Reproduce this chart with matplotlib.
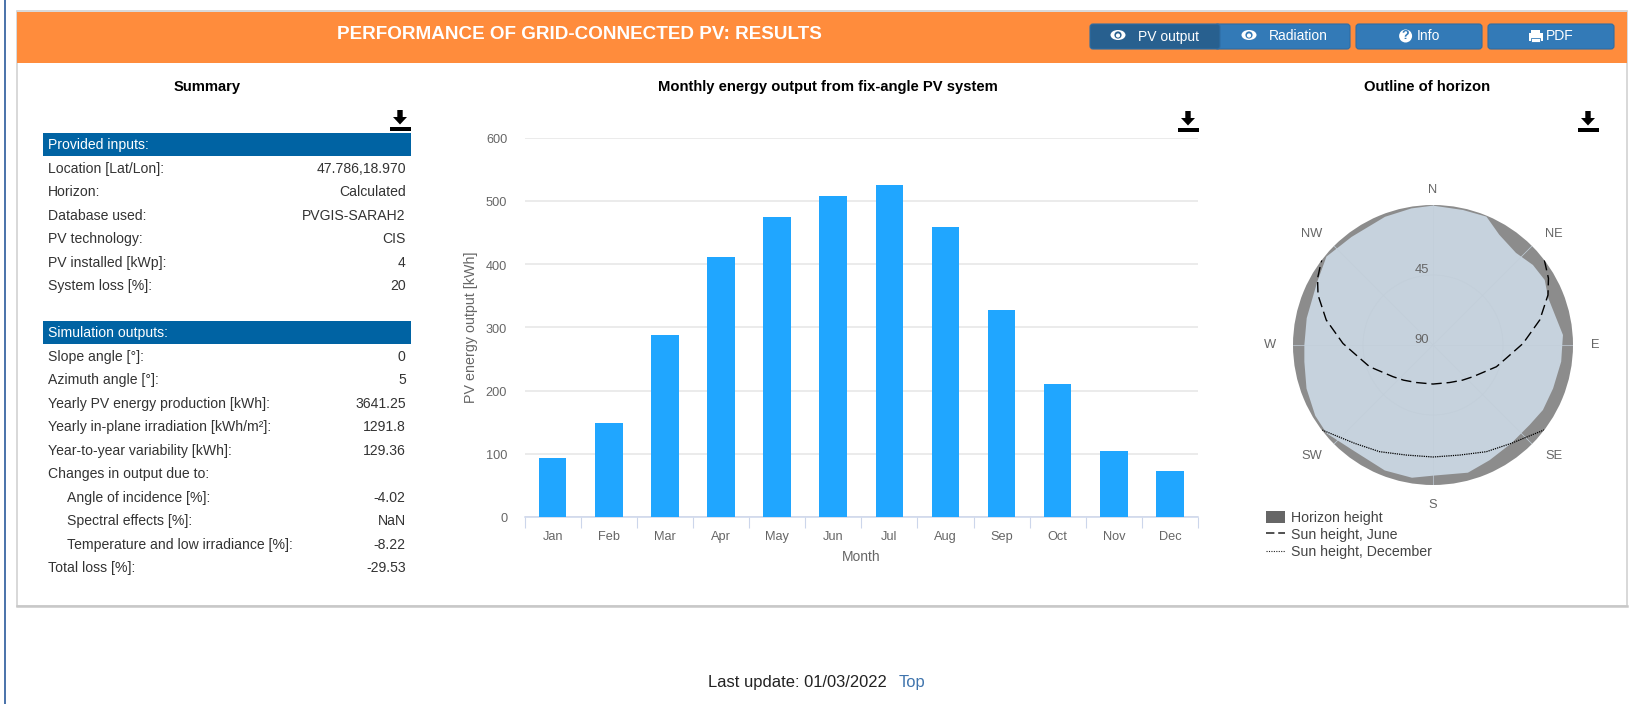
import numpy as np
import matplotlib
matplotlib.use("Agg")
import matplotlib.pyplot as plt
from matplotlib.patches import Rectangle, FancyBboxPatch, Polygon, Ellipse, Circle, Patch
from matplotlib.lines import Line2D
from matplotlib.transforms import ScaledTranslation

plt.rcParams['font.family'] = ['Liberation Sans', 'DejaVu Sans']

W, H = 1638, 704

# ---------- data ----------
months = ['Jan', 'Feb', 'Mar', 'Apr', 'May', 'Jun', 'Jul', 'Aug', 'Sep', 'Oct', 'Nov', 'Dec']
pv_output = [93, 149, 288, 412, 474, 508, 525, 458, 327, 211, 105, 73]
y_ticks = [0, 100, 200, 300, 400, 500, 600]

inputs_rows = [('Location [Lat/Lon]:', '47.786,18.970'), ('Horizon:', 'Calculated'),
               ('Database used:', 'PVGIS-SARAH2'), ('PV technology:', 'CIS'),
               ('PV installed [kWp]:', '4'), ('System loss [%]:', '20')]
output_rows = [('Slope angle [°]:', '0', 0), ('Azimuth angle [°]:', '5', 0),
               ('Yearly PV energy production [kWh]:', '3641.25', 0),
               ('Yearly in-plane irradiation [kWh/m²]:', '1291.8', 0),
               ('Year-to-year variability [kWh]:', '129.36', 0),
               ('Changes in output due to:', '', 0),
               ('Angle of incidence [%]:', '-4.02', 1), ('Spectral effects [%]:', 'NaN', 1),
               ('Temperature and low irradiance [%]:', '-8.22', 1), ('Total loss [%]:', '-29.53', 0)]
inputs_y = [169, 192, 216, 239, 263, 286]
output_y = [357, 380, 404, 427, 451, 474, 498, 521, 545, 568]

horizon_az = [0, 12.5, 22.6, 31, 42, 51.3, 59.8, 67.9, 85.6, 90, 97.4, 109.9, 120.6, 129.6,
              141.5, 153.8, 164.7, 180, 189, 201, 216, 230.3, 239, 251, 262.6, 270, 282,
              298.7, 309.7, 323, 339.5, 351]
horizon_el = [0.4, 1.1, 0.6, 7.3, 10.3, 7.7, 6.9, 10, 6.2, 6.9, 6.9, 7.9, 7.9, 9.4,
              9.2, 7.5, 4.9, 6, 3.6, 3.6, 5.1, 1.1, 1.7, 4, 6.6, 7.3, 7,
              5.2, 1, 3, 2, 1.1]
june_az = [52.7, 60, 66.5, 76.8, 89, 100, 108.9, 128.4, 140, 156, 180, 204, 220, 231.6,
           251.1, 260, 271, 283.2, 293.5, 300, 307.3]
june_el = [0, 4.3, 9.4, 19.5, 32.1, 42, 46.9, 57.2, 60.5, 63.6, 64.9, 63.6, 60.5, 57.2,
           46.9, 42, 32.1, 19.5, 9.4, 4.3, 0]
dec_az = [127.3, 141.5, 153.4, 166.4, 180, 193.6, 206.6, 218.5, 232.7]
dec_el = [0, 9.2, 13.3, 17.2, 18, 17.2, 13.3, 9.2, 0]
compass_deg = [0, 45, 90, 135, 180, 225, 270, 315]
compass = ['N', 'NE', 'E', 'SE', 'S', 'SW', 'W', 'NW']

fig = plt.figure(figsize=(W / 100, H / 100), dpi=100, facecolor='white')


def px_axes(x0, y0, x1, y1, **kw):
    return fig.add_axes([x0 / W, 1 - y1 / H, (x1 - x0) / W, (y1 - y0) / H], **kw)


# ---------- page ----------
pg = fig.add_axes([0, 0, 1, 1])
pg.set_xlim(0, W)
pg.set_ylim(H, 0)
pg.axis('off')

pg.plot([5, 5], [0, H], color='#2a5a9c', lw=1.2)
pg.add_patch(Rectangle((16.5, 10.5), 1610.5, 595, fc='white', ec='#d2d2d2', lw=1.2))
pg.plot([17, 1627], [606, 606], color='#c8c8c8', lw=1.8)
pg.add_patch(Rectangle((17, 12), 1610, 51, fc='#ff8c3c', ec='none'))
pg.text(579, 34.5, 'PERFORMANCE OF GRID-CONNECTED PV: RESULTS', color='white', fontsize=13.55,
        fontweight='bold', ha='center', va='center')


def button(x0, x1, color):
    pg.add_patch(FancyBboxPatch((x0 + 2, 26), x1 - x0 - 4, 21, boxstyle='round,pad=2,rounding_size=3',
                                fc=color, ec='#2e6da4', lw=0.8))


def eye(cx, cy, bg):
    pg.add_patch(Ellipse((cx, cy), 15, 10, fc='white', ec='none'))
    pg.add_patch(Circle((cx, cy), 3.6, fc=bg, ec='none'))
    pg.add_patch(Circle((cx, cy + 0.5), 2.1, fc='white', ec='none'))


button(1215, 1350, '#337ab7')
button(1090, 1220, '#28608f')
button(1356, 1482, '#337ab7')
button(1488, 1614, '#337ab7')
btn_kw = dict(color='white', fontsize=10, ha='center', va='center')
eye(1118, 35, '#28608f')
pg.text(1168, 36.5, 'PV output', **btn_kw)
eye(1249, 35, '#337ab7')
pg.text(1298, 36.5, 'Radiation', **btn_kw)
pg.add_patch(Circle((1405.6, 36), 6.5, fc='white', ec='none'))
pg.text(1405.6, 36.3, '?', color='#337ab7', fontsize=9, fontweight='bold', ha='center', va='center')
pg.text(1428, 36.5, 'Info', **btn_kw)
pg.add_patch(Rectangle((1528.5, 33), 14, 7.5, fc='white', ec='none'))
pg.add_patch(Rectangle((1531, 30), 9, 3, fc='white', ec='none'))
pg.add_patch(Rectangle((1531, 38), 9, 4, fc='white', ec='#337ab7', lw=0.6))
pg.text(1560, 36.5, 'PDF', **btn_kw)

title_kw = dict(color='black', fontsize=10.6, fontweight='bold', ha='center', va='center')
pg.text(207, 87, 'Summary', **title_kw)
pg.text(828, 87, 'Monthly energy output from fix-angle PV system', **title_kw)
pg.text(1427, 87, 'Outline of horizon', **title_kw)


def download(cx, y0):
    pg.add_patch(Polygon([(cx - 2.7, y0), (cx + 2.7, y0), (cx + 2.7, y0 + 7), (cx + 7, y0 + 7),
                          (cx, y0 + 14.5), (cx - 7, y0 + 7), (cx - 2.7, y0 + 7)], fc='black', ec='none'))
    pg.add_patch(Rectangle((cx - 10.5, y0 + 17), 21, 3.5, fc='black', ec='none'))


download(400, 110)
download(1188, 111)
download(1588, 111)

# ---------- summary tables ----------
row_kw = dict(color='#333333', fontsize=10.1, va='center')
for top, bottom, head in [(133, 155.5, 'Provided inputs:'), (321, 344, 'Simulation outputs:')]:
    pg.add_patch(Rectangle((43, top), 368, bottom - top, fc='#0063a3', ec='none'))
    pg.text(48.3, (top + bottom) / 2 + 1, head, color='white', fontsize=10.1, va='center')
for (label, value), y in zip(inputs_rows, inputs_y):
    pg.text(48.3, y, label, **row_kw)
    pg.text(405.7, y, value, ha='right', **row_kw)
for (label, value, indent), y in zip(output_rows, output_y):
    pg.text(67.3 if indent else 48.3, y, label, **row_kw)
    pg.text(405.7, y, value, ha='right', **row_kw)

pg.text(708, 682, 'Last update: 01/03/2022', color='#222222', fontsize=11.85, va='center')
pg.text(899, 682, 'Top', color='#3f74ad', fontsize=11.85, va='center')

# ---------- bar chart ----------
ax = px_axes(524.6, 137.7, 1198, 517)
ax.patch.set_alpha(0)
x = np.arange(len(months))
ax.bar(x, pv_output, width=0.49, color='#20a6ff', zorder=3)
ax.set_xlim(-0.5, 11.5)
ax.set_ylim(0, 600)
ax.set_yticks(y_ticks)
ax.set_xticks(x)
ax.set_xticklabels(months)
ax.set_xticks(np.arange(-0.5, 12), minor=True)
ax.grid(axis='y', color='#e6e6e6', lw=1.1, zorder=0)
ax.set_axisbelow(True)
for s in ['top', 'right', 'left']:
    ax.spines[s].set_visible(False)
ax.spines['bottom'].set_color('#ccd6eb')
ax.spines['bottom'].set_linewidth(1.1)
ax.tick_params(axis='y', length=0, pad=12.5, labelcolor='#666666', labelsize=9.2)
ax.tick_params(axis='x', which='major', length=0, pad=9.9, labelcolor='#666666', labelsize=9.2)
ax.tick_params(axis='x', which='minor', length=8, width=0.8, color='#ccd6eb')
for lab in ax.get_yticklabels():
    lab.set_transform(lab.get_transform() + ScaledTranslation(0, -1 / 100, fig.dpi_scale_trans))
ax.set_xlabel('Month', color='#666666', fontsize=10, labelpad=5.5)
ax.set_ylabel('PV energy output [kWh]', color='#666666', fontsize=10.3, labelpad=6)

# ---------- horizon ----------
pax = px_axes(1293, 205, 1573, 485, projection='polar')
pax.set_theta_zero_location('N')
pax.set_theta_direction(-1)
pax.set_facecolor('#8c8c8c')
pax.fill(np.radians(horizon_az), 90 - np.array(horizon_el), color='#c6d2dd', lw=0, zorder=1)
pax.plot(np.radians(june_az), 90 - np.array(june_el), color='black', lw=1.0, ls=(0, (7.5, 3.5)), zorder=3)
pax.plot(np.radians(dec_az), 90 - np.array(dec_el), color='black', lw=0.9, ls=(0, (1, 0.8)), zorder=3)
pax.set_ylim(0, 90)
pax.set_yticks([45])
pax.set_yticklabels([])
pax.set_thetagrids(compass_deg, [''] * len(compass))
pax.grid(color='#c2ced9', alpha=1, lw=0.5, zorder=0)
pax.set_axisbelow(False)
for gl in pax.get_xgridlines() + pax.get_ygridlines():
    gl.set_zorder(2)
pax.spines['polar'].set_visible(False)
label_dx = {'N': 0, 'S': 0, 'E': 22, 'W': -23, 'NE': 22, 'NW': -22, 'SE': 22, 'SW': -22}
label_dy = {'N': 15, 'S': -20, 'E': 0, 'W': 0, 'NE': 12.5, 'NW': 12.5, 'SE': -12.5, 'SW': -12.5}
for deg, name in zip(compass_deg, compass):
    pax.annotate(name, xy=(np.radians(deg), 90), xytext=(label_dx[name] * 0.72, label_dy[name] * 0.72),
                 textcoords='offset points', color='#666666', fontsize=9.3, ha='center', va='center',
                 annotation_clip=False)
for lab, r in [('45', 45), ('90', 0)]:
    pax.annotate(lab, xy=(0, r), xytext=(-8, 3.4), textcoords='offset points',
                 color='#666666', fontsize=9.4, ha='center', va='center', zorder=5)

leg_handles = [Patch(fc='#666666', ec='none', label='Horizon height'),
               Line2D([], [], color='#222222', lw=1.1, ls=(0, (5.5, 2.5)), label='Sun height, June'),
               Line2D([], [], color='#222222', lw=0.8, ls=(0, (1, 1.2)), label='Sun height, December')]
fig.legend(handles=leg_handles, loc='upper left', bbox_to_anchor=(1266 / W, 1 - 510.5 / H),
           frameon=False, fontsize=10.2, labelcolor='#444444', handlelength=1.36, handleheight=1.0,
           handletextpad=0.42, labelspacing=0.22, borderpad=0, borderaxespad=0)

fig.savefig('out.png', dpi=100)
